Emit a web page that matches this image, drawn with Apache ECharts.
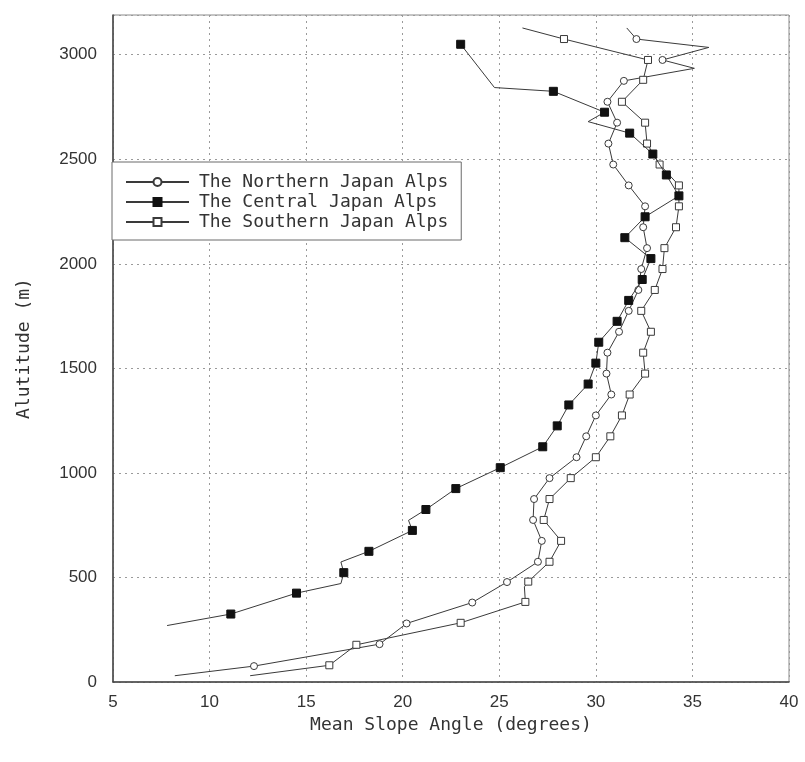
<!DOCTYPE html>
<html>
<head>
<meta charset="utf-8">
<script src="https://cdn.jsdelivr.net/npm/echarts@6/dist/echarts.min.js"></script>
<style>
html,body{margin:0;padding:0;background:#fff;}
#chart{width:805px;height:762px;}
</style>
</head>
<body>
<div id="chart"></div>
<script>
// ---- data (angle in degrees, altitude in m, 1 = marker drawn, 0 = plain vertex) ----
const seriesNames = ['The Northern Japan Alps', 'The Central Japan Alps', 'The Southern Japan Alps'];

const northernAngle = [8.2, 12.3, 18.8, 20.2, 23.6, 25.4, 27.0, 27.2, 26.75, 26.8, 27.6, 29.0, 29.5, 30.0, 30.8, 30.55, 30.6, 31.2, 31.7, 32.2, 32.35, 32.65, 32.45, 32.55, 31.7, 30.9, 30.65, 31.1, 30.6, 31.45, 35.1, 33.45, 35.85, 32.1, 31.6];
const northernAlt   = [30, 76, 181, 280, 380, 478, 575, 675, 775, 875, 975, 1075, 1175, 1275, 1375, 1475, 1575, 1675, 1775, 1875, 1975, 2075, 2175, 2275, 2375, 2475, 2575, 2675, 2775, 2875, 2935, 2975, 3035, 3075, 3128];
const northernMark  = [0, 1, 1, 1, 1, 1, 1, 1, 1, 1, 1, 1, 1, 1, 1, 1, 1, 1, 1, 1, 1, 1, 1, 1, 1, 1, 1, 1, 1, 1, 0, 1, 0, 1, 0];

const centralAngle = [7.8, 11.1, 14.5, 16.8, 16.95, 16.8, 18.25, 20.5, 20.3, 21.2, 22.75, 25.05, 27.25, 28.0, 28.6, 29.6, 30.0, 30.15, 31.1, 31.7, 32.4, 32.85, 31.5, 32.55, 34.3, 33.65, 32.95, 31.75, 29.6, 30.45, 27.8, 24.75, 23.0];
const centralAlt   = [270, 325, 425, 471, 523, 574, 625, 725, 773, 825, 925, 1025, 1125, 1225, 1325, 1425, 1525, 1625, 1725, 1825, 1925, 2025, 2125, 2225, 2325, 2425, 2525, 2625, 2680, 2725, 2825, 2843, 3050];
const centralMark  = [0, 1, 1, 0, 1, 0, 1, 1, 0, 1, 1, 1, 1, 1, 1, 1, 1, 1, 1, 1, 1, 1, 1, 1, 1, 1, 1, 1, 0, 1, 1, 0, 1];

const southernAngle = [12.1, 16.2, 17.6, 23.0, 26.35, 26.3, 26.5, 27.6, 28.2, 27.3, 27.6, 28.7, 30.0, 30.75, 31.35, 31.75, 32.55, 32.45, 32.85, 32.35, 33.05, 33.45, 33.55, 34.15, 34.3, 34.3, 33.3, 32.65, 32.55, 31.35, 32.45, 32.7, 28.35, 26.2];
const southernAlt   = [30, 80, 178, 283, 383, 455, 480, 575, 675, 775, 875, 975, 1075, 1175, 1275, 1375, 1475, 1575, 1675, 1775, 1875, 1975, 2075, 2175, 2275, 2375, 2475, 2575, 2675, 2775, 2880, 2975, 3075, 3128];
const southernMark  = [0, 1, 1, 1, 1, 0, 1, 1, 1, 1, 1, 1, 1, 1, 1, 1, 1, 1, 1, 1, 1, 1, 1, 1, 1, 1, 1, 1, 1, 1, 1, 1, 1, 0];

const xTicks = [5, 10, 15, 20, 25, 30, 35, 40];
const yTicks = [0, 500, 1000, 1500, 2000, 2500, 3000];
const yTop = 3190;

const xAxisName = 'Mean Slope Angle (degrees)';
const yAxisName = 'Alutitude (m)';

// ---- build ----
function build(angles, alts, marks) {
  return angles.map(function (a, i) {
    const item = { value: [a, alts[i]] };
    if (!marks[i]) item.symbol = 'none';
    return item;
  });
}

const LINE = '#3a3a3a';
const monoFont = '"DejaVu Sans Mono", "Liberation Mono", monospace';
const chart = echarts.init(document.getElementById('chart'), null, { renderer: 'canvas' });

chart.setOption({
  backgroundColor: '#ffffff',
  animation: false,
  grid: {
    left: 113, right: 16, top: 15, bottom: 80,
    show: true, borderColor: '#8a8a8a', borderWidth: 1
  },
  legend: {
    orient: 'vertical',
    left: 112, top: 162,
    padding: [10, 13, 8, 13],
    itemWidth: 63, itemHeight: 10, itemGap: 0,
    backgroundColor: '#ffffff',
    borderColor: '#6a6a6a', borderWidth: 1,
    textStyle: { fontFamily: monoFont, fontSize: 18, color: '#333', lineHeight: 20, padding: [0, 0, 0, 5] },
    data: seriesNames
  },
  xAxis: {
    type: 'value',
    min: xTicks[0], max: xTicks[xTicks.length - 1], interval: 5,
    name: xAxisName, nameLocation: 'middle', nameGap: 27,
    nameTextStyle: { fontFamily: monoFont, fontSize: 18, color: '#333' },
    axisLine: { show: true, lineStyle: { color: '#444', width: 1.5 } },
    axisTick: { show: false },
    axisLabel: {
      fontFamily: '"Liberation Sans", Arial, sans-serif', fontSize: 17, color: '#333', margin: 12,
      formatter: function (v) { return xTicks.indexOf(v) >= 0 ? String(v) : ''; }
    },
    splitLine: { show: true, lineStyle: { color: '#9a9a9a', type: [2, 4], width: 1 } }
  },
  yAxis: {
    type: 'value',
    min: yTicks[0], max: yTop, interval: 500,
    name: yAxisName, nameLocation: 'middle', nameGap: 80, nameRotate: 90,
    nameTextStyle: { fontFamily: monoFont, fontSize: 18, color: '#333' },
    axisLine: { show: true, lineStyle: { color: '#444', width: 1.5 } },
    axisTick: { show: false },
    axisLabel: {
      showMaxLabel: false,
      fontFamily: '"Liberation Sans", Arial, sans-serif', fontSize: 17, color: '#333', margin: 16,
      formatter: function (v) { return yTicks.indexOf(v) >= 0 ? String(v) : ''; }
    },
    splitLine: { show: true, lineStyle: { color: '#9a9a9a', type: [2, 4], width: 1 } }
  },
  series: [
    {
      name: seriesNames[0], type: 'line',
      symbol: 'circle', symbolSize: 7,
      lineStyle: { color: LINE, width: 1 },
      itemStyle: { color: '#ffffff', borderColor: LINE, borderWidth: 1 },
      data: build(northernAngle, northernAlt, northernMark), z: 3
    },
    {
      name: seriesNames[1], type: 'line',
      symbol: 'rect', symbolSize: 8,
      lineStyle: { color: LINE, width: 1 },
      itemStyle: { color: '#111111', borderColor: '#111111', borderWidth: 1 },
      data: build(centralAngle, centralAlt, centralMark), z: 4
    },
    {
      name: seriesNames[2], type: 'line',
      symbol: 'rect', symbolSize: 7,
      lineStyle: { color: LINE, width: 1 },
      itemStyle: { color: '#ffffff', borderColor: LINE, borderWidth: 1 },
      data: build(southernAngle, southernAlt, southernMark), z: 3
    }
  ]
});
</script>
</body>
</html>
